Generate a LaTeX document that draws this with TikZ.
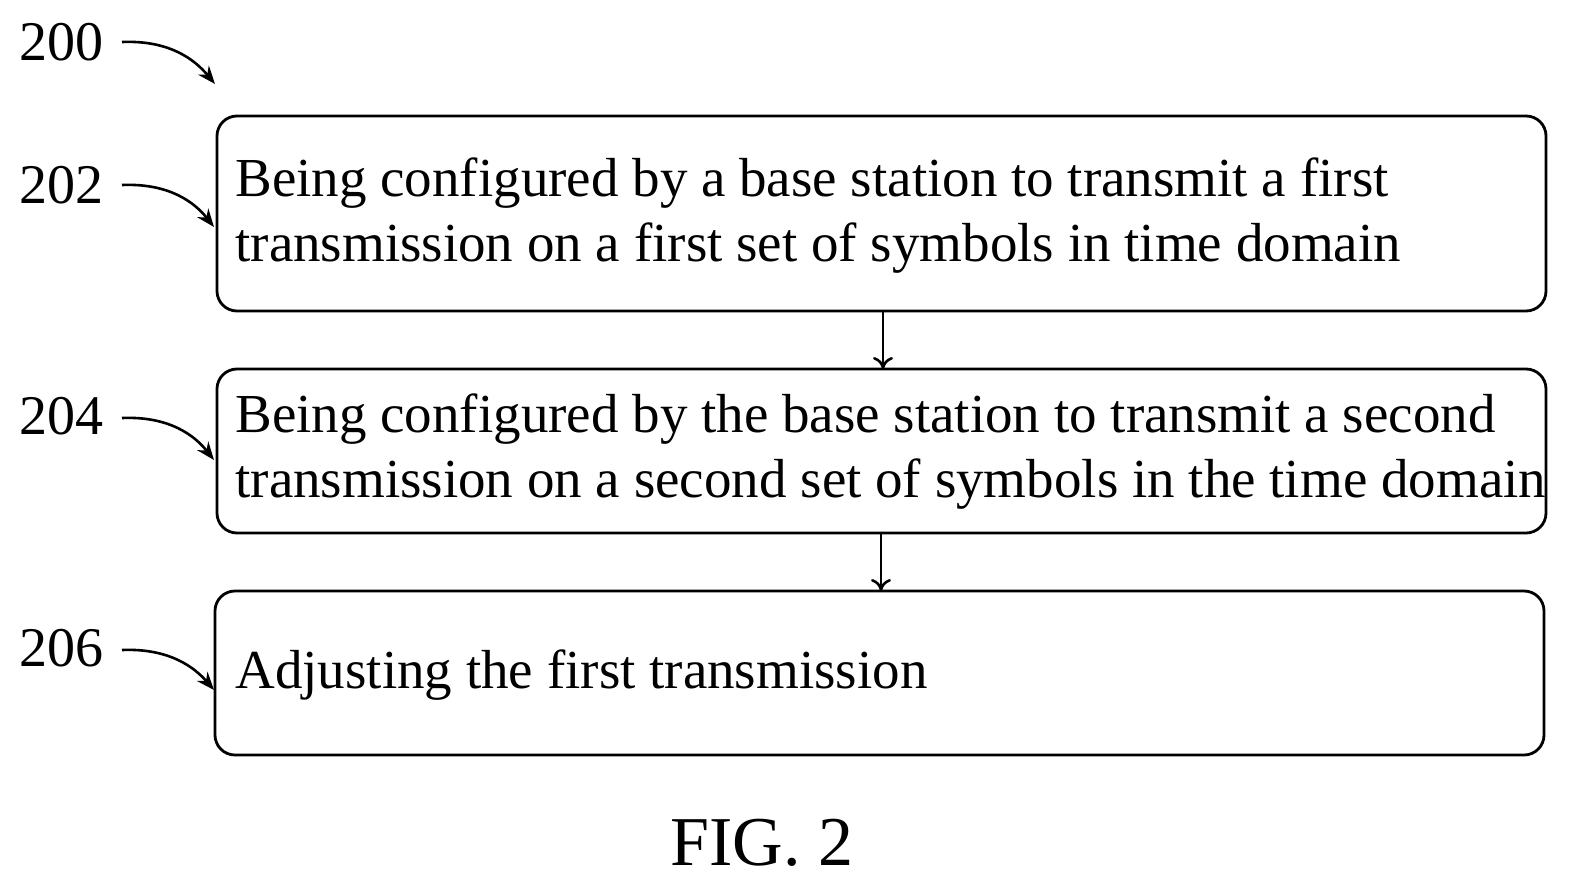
\documentclass[tikz,border=0pt]{standalone}
\usepackage{fontspec}
\setmainfont{Liberation Serif}
\usetikzlibrary{arrows.meta}
\begin{document}
\begin{tikzpicture}[x=0.5pt,y=-0.5pt,
  stepbox/.style={draw,line width=1.4pt,rounded corners=10pt},
  txt/.style={anchor=west,align=left,inner sep=0pt,font=\fontsize{27.5}{32.5}\selectfont},
  lbl/.style={font=\fontsize{28}{30}\selectfont,inner sep=1pt},
  lead/.style={line width=1.3pt,-{Stealth[length=9pt,width=7pt]}},
  flow/.style={line width=1.3pt,-{To[length=6pt,width=10pt]}}]
\useasboundingbox (0,0) rectangle (1582,893);
\draw[stepbox] (217,116) rectangle (1546,311);
\draw[stepbox] (217,369) rectangle (1546,533);
\draw[stepbox] (215,591) rectangle (1544,755);
\coordinate (b1b) at (883,311); \coordinate (b2t) at (883,369);
\coordinate (b2b) at (881,533); \coordinate (b3t) at (881,591);
\node[txt] (t1) at (235,216) {Being configured by a base station to transmit a first\\transmission on a first set of symbols in time domain};
\node[txt] (t2) at (235,452) {Being configured by the base station to transmit a second\\transmission on a second set of symbols in the time domain};
\node[txt] (t3) at (235,675) {Adjusting the first transmission};
\draw[flow] (b1b) -- (b2t);
\draw[flow] (b2b) -- (b3t);
\node[lbl] (l0) at (61,42) {200};
\node[lbl] (l2) at (61,185) {202};
\node[lbl] (l4) at (61,416) {204};
\node[lbl] (l6) at (61,648) {206};
\coordinate (e0) at (215,84);
\coordinate (e2) at (214,227);
\coordinate (e4) at (214,460);
\coordinate (e6) at (214,690);
\draw[lead] (122,42) .. controls (170,40) and (195,60) .. (e0);
\draw[lead] (122,185) .. controls (170,183) and (195,203) .. (e2);
\draw[lead] (122,418) .. controls (170,416) and (195,436) .. (e4);
\draw[lead] (122,650) .. controls (170,648) and (195,668) .. (e6);
\node[font=\fontsize{35}{40}\selectfont] (fig) at (762,843) {FIG. 2};
\end{tikzpicture}
\end{document}
